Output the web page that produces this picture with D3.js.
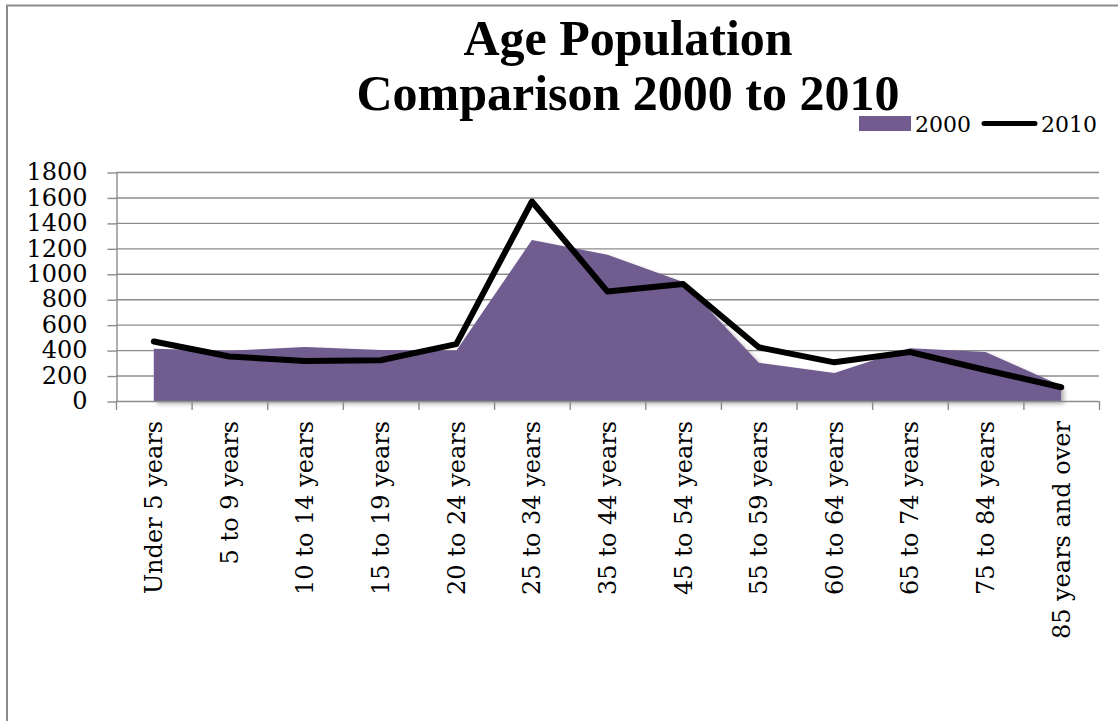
<!DOCTYPE html>
<html>
<head>
<meta charset="utf-8">
<script src="https://cdn.jsdelivr.net/npm/d3@7"></script>
<style>
  html, body { margin: 0; padding: 0; background: #fff; }
  svg { display: block; }
</style>
</head>
<body>
<div id="chart"></div>
<script>
const categories = ["Under 5 years", "5 to 9 years", "10 to 14 years", "15 to 19 years",
    "20 to 24 years", "25 to 34 years", "35 to 44 years", "45 to 54 years",
    "55 to 59 years", "60 to 64 years", "65 to 74 years", "75 to 84 years", "85 years and over"];
const values2000 = [410, 395, 425, 400, 395, 1265, 1150, 935, 300, 220, 415, 385, 120];
const values2010 = [468, 350, 315, 320, 447, 1568, 860, 920, 422, 304, 385, 244, 108];
const yTicks = [0, 200, 400, 600, 800, 1000, 1200, 1400, 1600, 1800];
const titleLines = ["Age Population", "Comparison 2000 to 2010"];
const seriesNames = ["2000", "2010"];

const W = 1118, H = 721;
const purple = "#715b8f", grid = "#8c8c8c";
const serif = "'DejaVu Serif', serif";

const svg = d3.select("#chart").append("svg")
    .attr("width", W)
    .attr("height", H);

const defs = svg.append("defs");
const shadow = defs.append("filter").attr("id", "shadow")
    .attr("x", "-5%").attr("y", "-5%").attr("width", "115%").attr("height", "115%");
shadow.append("feDropShadow")
    .attr("dx", 3).attr("dy", 3).attr("stdDeviation", 2)
    .attr("flood-color", "#000").attr("flood-opacity", 0.3);

// outer border (left + top only)
svg.append("path")
    .attr("d", "M7,721 V5.5 H1118")
    .attr("fill", "none")
    .attr("stroke", grid)
    .attr("stroke-width", 2);

const x = d3.scaleBand().domain(categories).range([116, 1099]).padding(0);
const y = d3.scaleLinear().domain([0, 1800]).range([401, 172]);
const cx = c => x(c) + x.bandwidth() / 2;

// gridlines
svg.append("g")
    .selectAll("line")
    .data(yTicks.slice(1))
    .enter()
    .append("line")
    .attr("x1", x.range()[0]).attr("x2", x.range()[1])
    .attr("y1", d => y(d) + 0.5).attr("y2", d => y(d) + 0.5)
    .attr("stroke", grid)
    .attr("stroke-width", 1.4);

// y axis
const yAxis = svg.append("g")
    .attr("transform", `translate(${x.range()[0] + 0.5},0)`)
    .call(d3.axisLeft(y).tickValues(yTicks).tickFormat(d3.format("d"))
        .tickSize(9).tickPadding(20).tickSizeOuter(0));
yAxis.select(".domain").attr("stroke", grid).attr("stroke-width", 1.4);
yAxis.selectAll(".tick line").attr("stroke", grid).attr("stroke-width", 1.4)
    .attr("transform", "translate(0,0.5)");
yAxis.selectAll(".tick text")
    .attr("font-family", serif)
    .attr("font-size", 24)
    .attr("fill", "#000");

// area 2000
const pts2000 = categories.map((c, i) => ({ c, v: values2000[i] }));
const pts2010 = categories.map((c, i) => ({ c, v: values2010[i] }));

svg.append("path")
    .datum(pts2000)
    .attr("fill", purple)
    .attr("filter", "url(#shadow)")
    .attr("d", d3.area().x(d => cx(d.c)).y0(y(0)).y1(d => y(d.v)));

// x axis line + ticks at band edges
const edges = categories.map(c => x(c)).concat([x.range()[1]]);
const xAxis = svg.append("g");
xAxis.append("line")
    .attr("x1", x.range()[0]).attr("x2", x.range()[1])
    .attr("y1", y(0) + 0.5).attr("y2", y(0) + 0.5)
    .attr("stroke", grid).attr("stroke-width", 1.4);
xAxis.selectAll(".xt")
    .data(edges)
    .enter()
    .append("line")
    .attr("x1", d => d + 0.5).attr("x2", d => d + 0.5)
    .attr("y1", y(0)).attr("y2", y(0) + 9)
    .attr("stroke", grid).attr("stroke-width", 1.4);

xAxis.selectAll(".xl")
    .data(categories)
    .enter()
    .append("text")
    .attr("transform", d => `translate(${cx(d)},421) rotate(-90)`)
    .attr("dy", "0.35em")
    .attr("text-anchor", "end")
    .attr("font-family", serif)
    .attr("font-size", 24)
    .attr("fill", "#000")
    .text(d => d);

// line 2010
svg.append("path")
    .datum(pts2010)
    .attr("fill", "none")
    .attr("stroke", "#000")
    .attr("stroke-width", 6)
    .attr("stroke-linejoin", "round")
    .attr("stroke-linecap", "round")
    .attr("d", d3.line().x(d => cx(d.c)).y(d => y(d.v)));

// title
svg.append("text")
    .attr("x", 628)
    .attr("text-anchor", "middle")
    .attr("font-family", "'Liberation Serif', serif")
    .attr("font-weight", "bold")
    .attr("font-size", 50)
    .selectAll("tspan")
    .data(titleLines)
    .enter()
    .append("tspan")
    .attr("x", 628)
    .attr("y", (d, i) => 55 + i * 55)
    .text(d => d);

// legend
const legend = svg.append("g");
legend.append("rect")
    .attr("x", 859).attr("y", 116).attr("width", 52).attr("height", 15)
    .attr("fill", purple);
legend.append("text")
    .attr("x", 915).attr("y", 131.5)
    .attr("font-family", serif).attr("font-size", 22)
    .text(seriesNames[0]);
legend.append("line")
    .attr("x1", 984).attr("x2", 1035)
    .attr("y1", 123.5).attr("y2", 123.5)
    .attr("stroke", "#000").attr("stroke-width", 5)
    .attr("stroke-linecap", "round");
legend.append("text")
    .attr("x", 1041).attr("y", 131.5)
    .attr("font-family", serif).attr("font-size", 22)
    .text(seriesNames[1]);
</script>
</body>
</html>
